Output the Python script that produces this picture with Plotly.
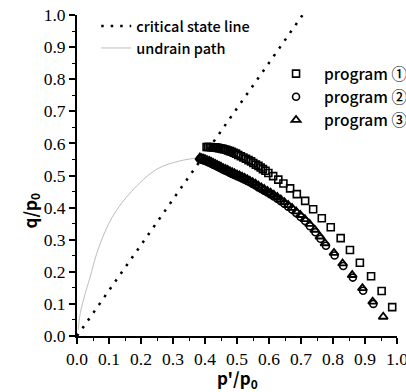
import plotly.graph_objects as go

# Critical state line (end points)
csl_p = [0.0, 0.705]
csl_q = [0.0, 1.0]

# Undrained stress path
und_p = [0.004, 0.01, 0.025, 0.04, 0.066, 0.11, 0.17, 0.25, 0.32, 0.385]
und_q = [0.02, 0.07, 0.13, 0.18, 0.27, 0.37, 0.45, 0.52, 0.545, 0.556]

# program 1
p1_p = [0.405, 0.41, 0.415, 0.42, 0.425, 0.43, 0.435, 0.44, 0.445, 0.45,
        0.455, 0.46, 0.466, 0.472, 0.478, 0.484, 0.49, 0.497, 0.504, 0.512,
        0.52, 0.528, 0.536, 0.544, 0.551, 0.559, 0.567, 0.574, 0.581, 0.589,
        0.598, 0.613, 0.629, 0.645, 0.666, 0.687, 0.713, 0.738, 0.765, 0.793,
        0.824, 0.853, 0.884, 0.919, 0.952, 0.985]
p1_q = [0.589, 0.589, 0.589, 0.588, 0.588, 0.587, 0.587, 0.586, 0.585, 0.584,
        0.583, 0.582, 0.58, 0.578, 0.576, 0.574, 0.571, 0.568, 0.564, 0.56,
        0.556, 0.552, 0.548, 0.544, 0.539, 0.534, 0.53, 0.525, 0.52, 0.515,
        0.508, 0.498, 0.487, 0.475, 0.46, 0.442, 0.421, 0.395, 0.367, 0.339,
        0.305, 0.268, 0.228, 0.186, 0.14, 0.09]

# program 2
p2_p = [0.384, 0.39, 0.396, 0.402, 0.408, 0.414, 0.42, 0.426, 0.432, 0.438,
        0.444, 0.45, 0.457, 0.464, 0.471, 0.478, 0.485, 0.492, 0.5, 0.508,
        0.516, 0.524, 0.532, 0.54, 0.549, 0.558, 0.567, 0.576, 0.585, 0.595,
        0.605, 0.615, 0.626, 0.637, 0.648, 0.66, 0.672, 0.685, 0.699, 0.713,
        0.728, 0.745, 0.761, 0.778, 0.805, 0.832, 0.862, 0.894, 0.926]
p2_q = [0.551, 0.549, 0.547, 0.545, 0.542, 0.54, 0.537, 0.534, 0.531, 0.528,
        0.525, 0.522, 0.518, 0.515, 0.512, 0.508, 0.505, 0.502, 0.498, 0.495,
        0.491, 0.487, 0.483, 0.479, 0.474, 0.469, 0.463, 0.458, 0.453, 0.447,
        0.441, 0.435, 0.428, 0.42, 0.412, 0.403, 0.394, 0.383, 0.371, 0.358,
        0.342, 0.323, 0.303, 0.281, 0.251, 0.218, 0.182, 0.141, 0.1]

# program 3
p3_p = [0.384, 0.39, 0.396, 0.402, 0.408, 0.414, 0.42, 0.426, 0.432, 0.438,
        0.444, 0.45, 0.457, 0.464, 0.471, 0.478, 0.485, 0.492, 0.5, 0.508,
        0.516, 0.524, 0.532, 0.54, 0.549, 0.558, 0.567, 0.576, 0.585, 0.595,
        0.605, 0.615, 0.626, 0.637, 0.648, 0.66, 0.672, 0.685, 0.698, 0.712,
        0.727, 0.743, 0.759, 0.775, 0.803, 0.83, 0.86, 0.892, 0.924, 0.957]
p3_q = [0.556, 0.554, 0.552, 0.55, 0.547, 0.545, 0.542, 0.539, 0.536, 0.533,
        0.53, 0.527, 0.523, 0.52, 0.517, 0.513, 0.51, 0.507, 0.503, 0.5,
        0.496, 0.492, 0.488, 0.484, 0.479, 0.474, 0.468, 0.463, 0.458, 0.452,
        0.446, 0.44, 0.433, 0.425, 0.417, 0.408, 0.399, 0.388, 0.377, 0.364,
        0.349, 0.331, 0.31, 0.289, 0.259, 0.226, 0.19, 0.149, 0.107, 0.06]

sans = "Noto Sans CJK JP"
serif = "Liberation Serif"

fig = go.Figure()

fig.add_trace(go.Scatter(
    x=csl_p, y=csl_q, mode="lines", name="critical state line",
    line=dict(color="black", width=2.5, dash="2.5px,7px"),
    legend="legend"))
fig.add_trace(go.Scatter(
    x=und_p, y=und_q, mode="lines", name="undrain path",
    line=dict(color="#bdbdbd", width=1, shape="spline", smoothing=1.0),
    legend="legend"))

fig.add_trace(go.Scatter(
    x=p1_p, y=p1_q, mode="markers", name="program \u2460",
    marker=dict(symbol="square-open", size=7, color="black",
                line=dict(width=1.6, color="black")),
    legend="legend2"))
fig.add_trace(go.Scatter(
    x=p2_p, y=p2_q, mode="markers", name="program \u2461",
    marker=dict(symbol="circle-open", size=7, color="black",
                line=dict(width=1.6, color="black")),
    legend="legend2"))
fig.add_trace(go.Scatter(
    x=p3_p, y=p3_q, mode="markers", name="program \u2462",
    marker=dict(symbol="triangle-up-open", size=8, color="black",
                line=dict(width=1.8, color="black")),
    legend="legend2"))

fig.update_layout(
    width=406, height=392,
    margin=dict(l=77, r=9, t=15, b=56, autoexpand=False),
    paper_bgcolor="white", plot_bgcolor="white",
    font=dict(family=serif, size=17.5, color="black"),
    showlegend=True,
    legend=dict(x=0.06, y=1.015, xanchor="left", yanchor="top",
                bgcolor="rgba(0,0,0,0)",
                font=dict(family=sans, size=14.5, color="black", weight=500),
                tracegroupgap=0),
    legend2=dict(x=0.597, y=0.869, xanchor="left", yanchor="top",
                 bgcolor="rgba(0,0,0,0)", itemwidth=46,
                 font=dict(family=sans, size=15.5, color="black", weight=500),
                 tracegroupgap=0),
    annotations=[
        dict(text="p'/p<sub>0</sub>", xref="paper", yref="paper",
             x=0.5, y=-0.133, xanchor="center", yanchor="middle",
             showarrow=False,
             font=dict(family=sans, size=17, color="black", weight=600)),
        dict(text="q/p<sub>0</sub>", xref="paper", yref="paper",
             x=-0.145, y=0.39, xanchor="center", yanchor="middle",
             textangle=-90, showarrow=False,
             font=dict(family=sans, size=17, color="black", weight=600)),
    ],
)

axis_kw = dict(
    range=[0, 1.0], dtick=0.1, tickformat=".1f",
    showgrid=False, zeroline=False,
    showline=True, linecolor="black", linewidth=2,
    ticks="outside", ticklen=6, tickwidth=1.5, tickcolor="black",
    tickfont=dict(family=serif, size=17.5, color="black"),
    ticklabeloverflow="allow",
    minor=dict(dtick=0.05, ticks="outside", ticklen=3, tickwidth=1.2,
               tickcolor="black", showgrid=False),
)
fig.update_xaxes(**axis_kw)
fig.update_yaxes(**axis_kw)

fig.write_html("out.html")
